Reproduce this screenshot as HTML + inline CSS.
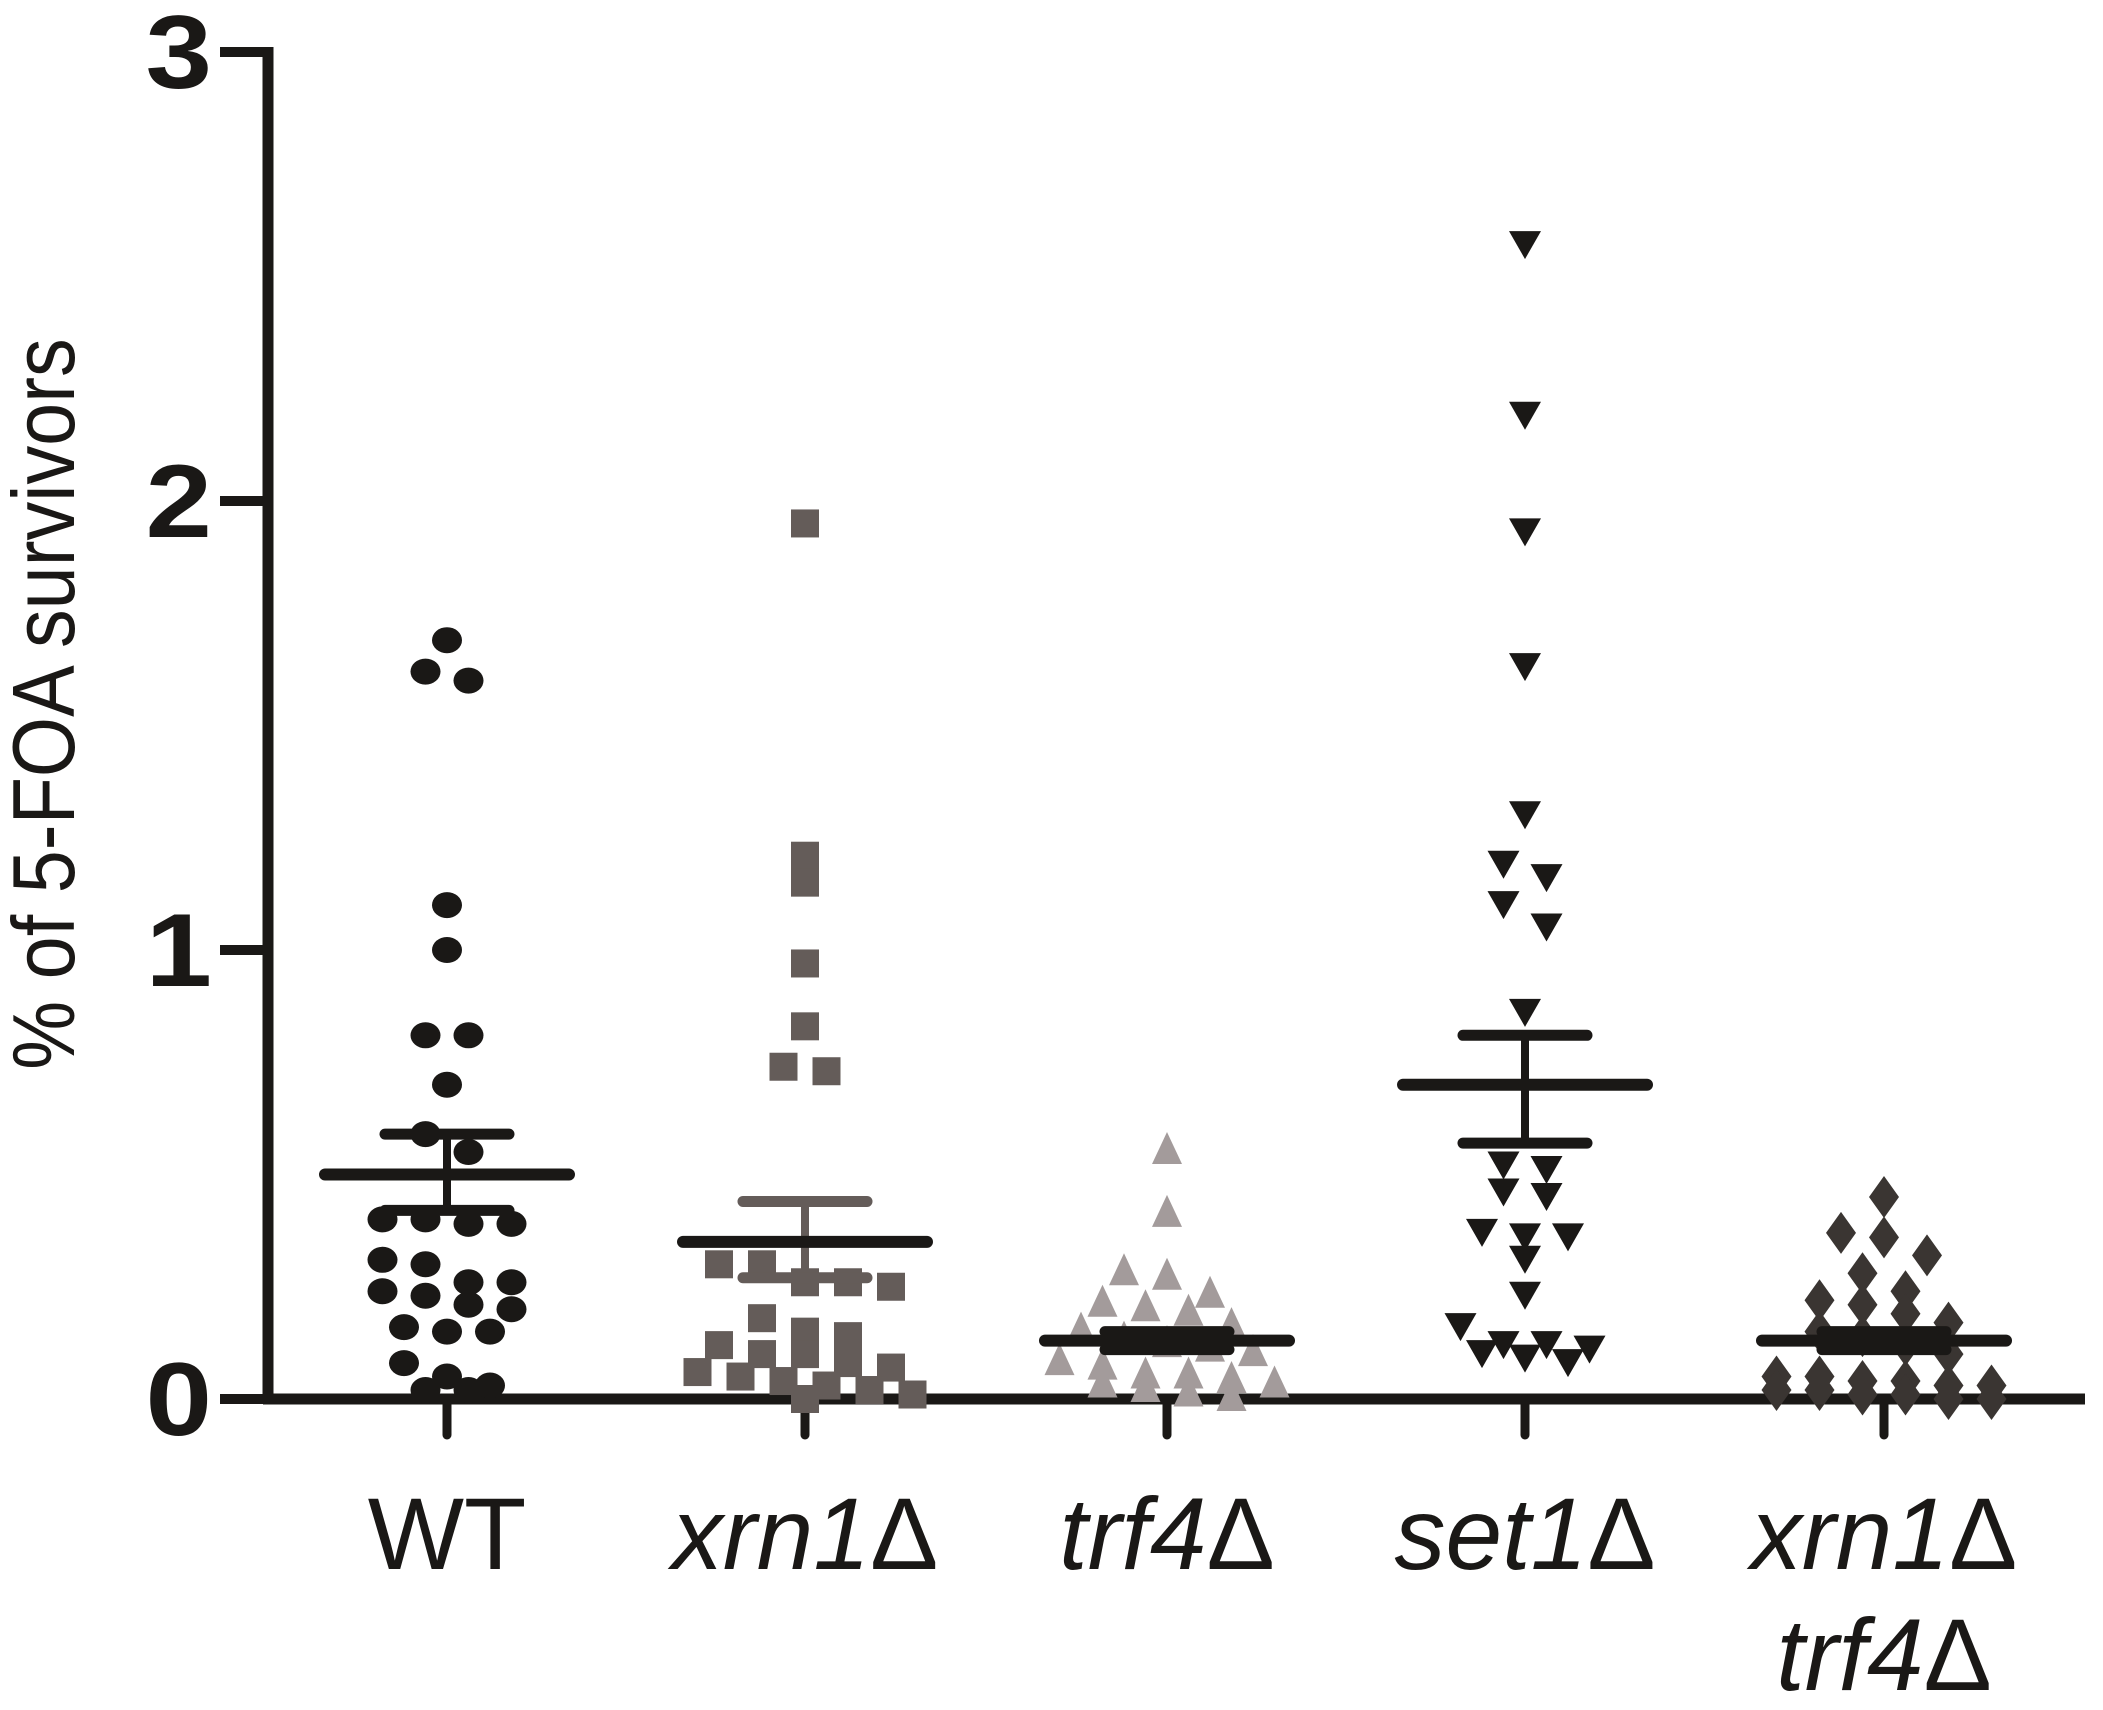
<!DOCTYPE html>
<html><head><meta charset="utf-8"><style>
html,body{margin:0;padding:0;background:#fff;}
svg{display:block;}
text{font-family:"Liberation Sans",Arial,sans-serif;}
</style></head><body>
<svg id="chart" width="2103" height="1710" viewBox="0 0 2103 1710" xmlns="http://www.w3.org/2000/svg">
<g id="axes"></g>
<g id="marks"></g>
<g id="stats"></g>
<text transform="translate(74,704) rotate(-90) scale(0.88,1)" text-anchor="middle" font-size="88" fill="#1a1816">% of 5-FOA survivors</text>
</svg>
<script>
const categories = ["WT","xrn1Δ","trf4Δ","set1Δ","xrn1Δ trf4Δ"];
const yTicks = [0,1,2,3];
const wtValues = [1.69,1.62,1.60,1.10,1.00,0.81,0.81,0.70,0.59,0.55,0.40,0.39,0.39,0.40,0.31,0.30,0.26,0.26,0.24,0.23,0.21,0.20,0.16,0.15,0.15,0.08,0.05,0.03,0.02,0.02];
const xrn1Values = [1.95,1.21,1.15,0.97,0.83,0.74,0.73,0.30,0.30,0.26,0.25,0.26,0.18,0.15,0.14,0.12,0.10,0.10,0.08,0.07,0.06,0.05,0.04,0.03,0.02,0.01,0.0];
const trf4Values = [0.55,0.41,0.28,0.27,0.23,0.21,0.20,0.19,0.16,0.15,0.13,0.12,0.11,0.10,0.08,0.07,0.05,0.05,0.04,0.03,0.03,0.02,0.01,0.0];
const set1Values = [2.57,2.19,1.93,1.63,1.30,1.19,1.16,1.10,1.05,0.86,0.52,0.51,0.46,0.45,0.37,0.36,0.36,0.31,0.23,0.16,0.12,0.12,0.11,0.10,0.09,0.08];
const dblValues = [0.45,0.37,0.36,0.32,0.28,0.24,0.22,0.21,0.19,0.17,0.15,0.14,0.12,0.10,0.05,0.05,0.04,0.04,0.03,0.03,0.02,0.02,0.01,0.01,0.0,0.0];
const means = [0.50,0.35,0.13,0.70,0.13];
const semHi = [0.59,0.44,0.15,0.81,0.15];
const semLo = [0.42,0.27,0.11,0.57,0.11];

const NS="http://www.w3.org/2000/svg";
const X0=268, XEND=2085, Y0=1399, PXU=449;
const catX=[447,805,1167,1525,1884];
function yScale(v){return Y0-v*PXU;}
function xScale(i){return catX[i];}
function mk(tag,attrs,parent){const e=document.createElementNS(NS,tag);for(const k in attrs)e.setAttribute(k,attrs[k]);parent.appendChild(e);return e;}
const axes=document.getElementById('axes'),marks=document.getElementById('marks'),stats=document.getElementById('stats');

let yl=mk('line',{x1:X0,y1:yScale(3)-5,x2:X0,y2:Y0+5,stroke:'#1a1816','stroke-width':11},axes);


let xl=mk('line',{x1:X0-5,y1:Y0,x2:XEND,y2:Y0,stroke:'#1a1816','stroke-width':11},axes);


yTicks.forEach(t=>{
  const y=yScale(t);
  const tk=mk('line',{x1:220,y1:y,x2:X0,y2:y,stroke:'#1a1816','stroke-width':10},axes);
  
  
  const lb=mk('text',{x:212,y:y+36,'text-anchor':'end','font-size':104,'font-weight':'bold',fill:'#1a1816',transform:`translate(212,0) scale(1.15,1) translate(-212,0)`},axes);
  lb.textContent=t;
  
  
});
categories.forEach((c,i)=>{
  const x=xScale(i);
  const tk=mk('line',{x1:x,y1:Y0,x2:x,y2:1435,stroke:'#1a1816','stroke-width':9,'stroke-linecap':'round'},axes);
  
  
  const parts=c.split(' ');
  parts.forEach((p,j)=>{
    const lb=mk('text',{x:x,y:1569+j*121,'text-anchor':'middle','font-size':102,fill:'#1a1816','font-style':i===0?'normal':'italic'},axes);
    if(p.endsWith('Δ')){
      lb.appendChild(document.createTextNode(p.slice(0,-1)));
      const d=mk('tspan',{'font-style':'normal'},lb);
      d.textContent='Δ';
    } else lb.textContent=p;
    
    
  });
});

const groups=[wtValues,xrn1Values,trf4Values,set1Values,dblValues];
const colors=['#1a1816','#645c59','#a39b9b','#1a1816','#3a3532'];
const shapes=['circle','square','up','down','diamond'];
function drawMarker(shape,x,y,col){
  let e;
  if(shape==='circle') e=mk('ellipse',{cx:x,cy:y,rx:15,ry:13,fill:col},marks);
  else if(shape==='square') e=mk('rect',{x:x-14,y:y-14,width:28,height:28,fill:col},marks);
  else if(shape==='up') e=mk('polygon',{points:`${x},${y-20} ${x-15},${y+12} ${x+15},${y+12}`,fill:col},marks);
  else if(shape==='down') e=mk('polygon',{points:`${x-16},${y-14} ${x+16},${y-14} ${x},${y+14}`,fill:col},marks);
  else e=mk('polygon',{points:`${x},${y-21} ${x+15},${y} ${x},${y+21} ${x-15},${y}`,fill:col},marks);
  return e;
}
groups.forEach((vals,gi)=>{
  const sorted=vals.slice().sort((a,b)=>b-a);
  const rows=[];
  sorted.forEach(v=>{
    const r=rows[rows.length-1];
    if(r && (yScale(v)-yScale(r[0]))<26 && r.length<6) r.push(v); else rows.push([v]);
  });
  rows.forEach(r=>{
    const n=r.length;
    r.forEach((v,k)=>{
      const x=xScale(gi)+(k-(n-1)/2)*43;
      const m=drawMarker(shapes[gi],x,yScale(v),colors[gi]);
      
      
    });
  });
});
means.forEach((m,i)=>{
  const x=xScale(i), col=(i===1)?'#645c59':'#1a1816';
  const v=mk('line',{x1:x,y1:yScale(semHi[i]),x2:x,y2:yScale(semLo[i]),stroke:col,'stroke-width':8},stats);
  
  
  [semHi[i],semLo[i]].forEach(s=>{
    const c=mk('line',{x1:x-62,y1:yScale(s),x2:x+62,y2:yScale(s),stroke:col,'stroke-width':11,'stroke-linecap':'round'},stats);
    
    
  });
  const ml=mk('line',{x1:x-122,y1:yScale(m),x2:x+122,y2:yScale(m),stroke:'#1a1816','stroke-width':12,'stroke-linecap':'round'},stats);
  
  
});
</script>
</body></html>
